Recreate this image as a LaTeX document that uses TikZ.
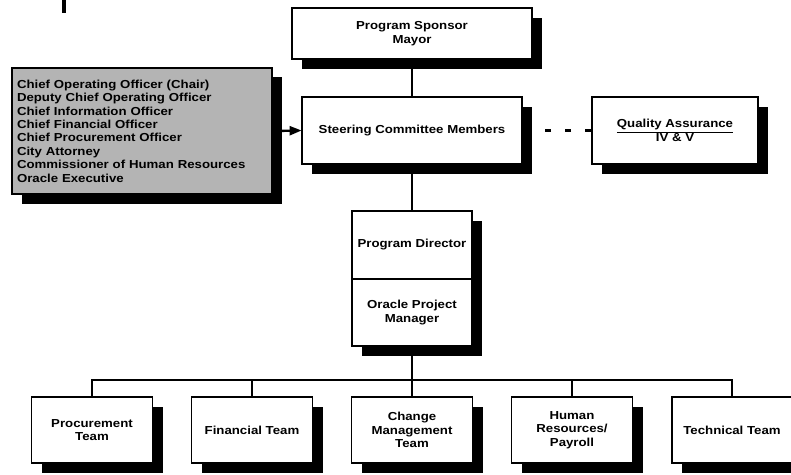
\documentclass[tikz,border=0pt]{standalone}
\usepackage{fontspec}
\setmainfont{Liberation Sans}[FakeStretch=1.14]
\usetikzlibrary{shadows,arrows.meta}
\definecolor{boxgray}{RGB}{180,180,180}
\tikzset{
  box/.style={draw=black, line width=1.8pt, fill=white, align=center, inner sep=2pt,
    font=\fontsize{11.6}{13.4}\selectfont\bfseries,
    drop shadow={shadow xshift=10pt, shadow yshift=-10pt, fill=black, opacity=1}},
  conn/.style={line width=2.4pt, draw=black},
}
\begin{document}
\begin{tikzpicture}[x=1pt,y=-1pt]
\useasboundingbox (0,0) rectangle (791,474);
% small mark at top left
\draw[line width=4pt] (64,0) -- (64,13);
\coordinate (bus) at (412,380);
% nodes
\node[box, minimum width=240pt, minimum height=51pt] (sponsor) at (412,33.5) {Program Sponsor\\Mayor};
\node[box, minimum width=220pt, minimum height=67pt] (steer) at (412,130.5) {Steering Committee Members};
\node[box, fill=boxgray, minimum width=260pt, minimum height=126pt, text width=250pt, align=left, inner xsep=5pt,
  drop shadow={shadow xshift=10pt, shadow yshift=-9pt, fill=black, opacity=1}] (gray) at (142,131)
  {Chief Operating Officer (Chair)\\Deputy Chief Operating Officer\\Chief Information Officer\\Chief Financial Officer\\Chief Procurement Officer\\City Attorney\\Commissioner of Human Resources\\Oracle Executive};
\node[box, minimum width=166pt, minimum height=67pt] (qa) at (675,130.5) {\underline{Quality Assurance}\\IV \& V};
\node[box, minimum width=120pt, minimum height=68pt] (director) at (412,245) {Program Director};
\node[box, minimum width=120pt, minimum height=67pt] (manager) at (412,312.5) {Oracle Project\\Manager};
\node[box, minimum width=121pt, minimum height=66pt] (t1) at (92,430) {Procurement\\Team};
\node[box, minimum width=121pt, minimum height=66pt] (t2) at (252,430) {Financial Team};
\node[box, minimum width=121pt, minimum height=66pt] (t3) at (412,430) {Change\\Management\\Team};
\node[box, minimum width=121pt, minimum height=66pt] (t4) at (572,430) {Human\\Resources/\\Payroll};
\node[box, minimum width=120pt, minimum height=66pt] (t5) at (732,430) {Technical Team};
% connectors
\draw[conn] (sponsor.south) -- (steer.north);
\draw[conn] (steer.south) -- (director.north);
\draw[conn] (manager.south) -- (bus);
\draw[conn] (t1.north) |- (bus) -| (t5.north);
\draw[conn] (t2.north) -- (t2.north |- bus);
\draw[conn] (t3.north) -- (bus);
\draw[conn] (t4.north) -- (t4.north |- bus);
\draw[conn, -{Triangle[length=12pt,width=9pt]}, shorten >=-0.5pt] (gray.east) -- (steer.west);
\draw[conn, dash pattern=on 6pt off 14pt] (qa.west) -- (steer.east);
\end{tikzpicture}
\end{document}
